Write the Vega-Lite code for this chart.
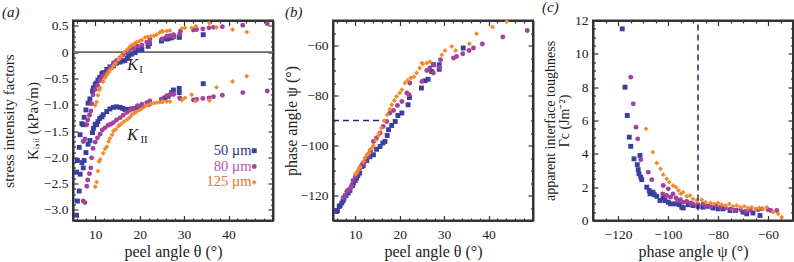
{
"$schema": "https://vega.github.io/schema/vega-lite/v6.json",
"background": "white",
"padding": {"left": 0, "top": -1.5, "right": 0, "bottom": 0},
"config": {
  "font": "Liberation Serif",
  "view": {"stroke": "#333333", "strokeWidth": 2},
  "axis": {"labelFont": "Liberation Serif", "labelFontSize": 13.5, "labelColor": "#222", "titleFont": "Liberation Serif", "titleFontSize": 16, "titleFontWeight": "normal", "titleColor": "#222", "grid": false, "domain": false, "domainColor": "#333333", "domainWidth": 2, "ticks": true, "tickColor": "#333333", "tickWidth": 1.2},
  "legend": {"labelFont": "Liberation Serif", "labelFontSize": 14.5, "padding": 0, "rowPadding": 0.8, "symbolSize": 24, "labelAlign": "right", "labelOffset": -10, "symbolOffset": 0},
  "title": {"font": "Liberation Serif", "fontStyle": "italic", "fontSize": 15, "fontWeight": "normal", "anchor": "start", "frame": "group", "color": "#222", "offset": 0}
},
"datasets": {
"m": [
{"s":"50 µm","t":5.8,"p":-126.4,"k1":-2.28,"k2":-3.10},
{"s":"50 µm","t":6.0,"p":-126,"k1":-2.06,"k2":-2.83},
{"s":"50 µm","t":6.4,"p":-124.4,"k1":-1.81,"k2":-2.64},
{"s":"50 µm","t":6.6,"p":-124,"k1":-1.57,"k2":-2.32},
{"s":"50 µm","t":7.0,"p":-123,"k1":-1.36,"k2":-2.10},
{"s":"50 µm","t":7.3,"p":-122,"k1":-1.38,"k2":-2.20},
{"s":"50 µm","t":7.5,"p":-121,"k1":-1.24,"k2":-2.06},
{"s":"50 µm","t":7.9,"p":-120,"k1":-1.10,"k2":-1.91},
{"s":"50 µm","t":8.4,"p":-119,"k1":-0.97,"k2":-1.75},
{"s":"50 µm","t":8.8,"p":-118,"k1":-0.89,"k2":-1.68},
{"s":"50 µm","t":9.4,"p":-116,"k1":-0.74,"k2":-1.53},
{"s":"50 µm","t":9.6,"p":-115,"k1":-0.68,"k2":-1.45},
{"s":"50 µm","t":10.0,"p":-114,"k1":-0.61,"k2":-1.37},
{"s":"50 µm","t":10.3,"p":-113,"k1":-0.59,"k2":-1.38},
{"s":"50 µm","t":10.6,"p":-112,"k1":-0.53,"k2":-1.32},
{"s":"50 µm","t":11.0,"p":-111,"k1":-0.48,"k2":-1.26},
{"s":"50 µm","t":11.5,"p":-108.4,"k1":-0.41,"k2":-1.23},
{"s":"50 µm","t":11.8,"p":-108,"k1":-0.39,"k2":-1.19},
{"s":"50 µm","t":12.6,"p":-106,"k1":-0.33,"k2":-1.13},
{"s":"50 µm","t":13.3,"p":-104.5,"k1":-0.28,"k2":-1.08},
{"s":"50 µm","t":14.1,"p":-103.7,"k1":-0.26,"k2":-1.05},
{"s":"50 µm","t":14.8,"p":-101.5,"k1":-0.21,"k2":-1.04},
{"s":"50 µm","t":15.6,"p":-100.4,"k1":-0.19,"k2":-1.05},
{"s":"50 µm","t":16.2,"p":-99,"k1":-0.17,"k2":-1.07},
{"s":"50 µm","t":16.7,"p":-98.4,"k1":-0.16,"k2":-1.09},
{"s":"50 µm","t":17.2,"p":-96,"k1":-0.12,"k2":-1.09},
{"s":"50 µm","t":17.5,"p":-93.7,"k1":-0.07,"k2":-1.10},
{"s":"50 µm","t":18.2,"p":-92,"k1":-0.04,"k2":-1.08},
{"s":"50 µm","t":19.0,"p":-90.4,"k1":-0.01,"k2":-1.07},
{"s":"50 µm","t":19.6,"p":-88,"k1":0.04,"k2":-1.05},
{"s":"50 µm","t":20.5,"p":-87,"k1":0.05,"k2":-1.03},
{"s":"50 µm","t":21.9,"p":-83.7,"k1":0.11,"k2":-0.99},
{"s":"50 µm","t":22.2,"p":-80.8,"k1":0.16,"k2":-0.97},
{"s":"50 µm","t":24.9,"p":-77,"k1":0.21,"k2":-0.91},
{"s":"50 µm","t":25.7,"p":-74.1,"k1":0.25,"k2":-0.87},
{"s":"50 µm","t":26.4,"p":-73.5,"k1":0.25,"k2":-0.84},
{"s":"50 µm","t":27.2,"p":-70.4,"k1":0.27,"k2":-0.77},
{"s":"50 µm","t":27.6,"p":-67.7,"k1":0.30,"k2":-0.72},
{"s":"50 µm","t":28.9,"p":-69.5,"k1":0.29,"k2":-0.77},
{"s":"50 µm","t":28.9,"p":-67.7,"k1":0.28,"k2":-0.69},
{"s":"50 µm","t":34.3,"p":-61,"k1":0.33,"k2":-0.60},
{"s":"80 µm","t":7.3,"p":-121,"k1":-1.70,"k2":-2.83},
{"s":"80 µm","t":7.7,"p":-120,"k1":-1.65,"k2":-2.86},
{"s":"80 µm","t":8.1,"p":-118.4,"k1":-1.38,"k2":-2.55},
{"s":"80 µm","t":8.3,"p":-118,"k1":-1.29,"k2":-2.43},
{"s":"80 µm","t":8.7,"p":-117.5,"k1":-1.20,"k2":-2.31},
{"s":"80 µm","t":9.0,"p":-117,"k1":-1.12,"k2":-2.20},
{"s":"80 µm","t":9.2,"p":-116,"k1":-0.98,"k2":-2.01},
{"s":"80 µm","t":9.5,"p":-114,"k1":-0.81,"k2":-1.83},
{"s":"80 µm","t":10.0,"p":-112.5,"k1":-0.71,"k2":-1.71},
{"s":"80 µm","t":10.5,"p":-111,"k1":-0.63,"k2":-1.63},
{"s":"80 µm","t":11.1,"p":-109,"k1":-0.54,"k2":-1.56},
{"s":"80 µm","t":11.6,"p":-107.5,"k1":-0.47,"k2":-1.48},
{"s":"80 µm","t":12.2,"p":-106.4,"k1":-0.42,"k2":-1.44},
{"s":"80 µm","t":12.9,"p":-104.4,"k1":-0.36,"k2":-1.39},
{"s":"80 µm","t":13.5,"p":-102,"k1":-0.29,"k2":-1.37},
{"s":"80 µm","t":14.1,"p":-98.4,"k1":-0.20,"k2":-1.34},
{"s":"80 µm","t":14.8,"p":-97,"k1":-0.16,"k2":-1.29},
{"s":"80 µm","t":15.6,"p":-95,"k1":-0.11,"k2":-1.25},
{"s":"80 µm","t":16.3,"p":-92.4,"k1":-0.05,"k2":-1.20},
{"s":"80 µm","t":17.1,"p":-90.4,"k1":-0.01,"k2":-1.15},
{"s":"80 µm","t":17.8,"p":-87,"k1":0.06,"k2":-1.10},
{"s":"80 µm","t":18.6,"p":-86,"k1":0.07,"k2":-1.07},
{"s":"80 µm","t":19.5,"p":-84,"k1":0.11,"k2":-1.02},
{"s":"80 µm","t":20.5,"p":-82.4,"k1":0.13,"k2":-0.99},
{"s":"80 µm","t":21.6,"p":-79,"k1":0.19,"k2":-0.96},
{"s":"80 µm","t":22.1,"p":-79.7,"k1":0.17,"k2":-0.95},
{"s":"80 µm","t":22.3,"p":-75,"k1":0.25,"k2":-0.93},
{"s":"80 µm","t":25.0,"p":-74.4,"k1":0.25,"k2":-0.89},
{"s":"80 µm","t":26.1,"p":-70,"k1":0.30,"k2":-0.83},
{"s":"80 µm","t":26.8,"p":-69,"k1":0.31,"k2":-0.81},
{"s":"80 µm","t":27.6,"p":-67.7,"k1":0.33,"k2":-0.80},
{"s":"80 µm","t":27.6,"p":-71,"k1":0.28,"k2":-0.80},
{"s":"80 µm","t":29.0,"p":-68.8,"k1":0.34,"k2":-0.87},
{"s":"80 µm","t":29.2,"p":-65.7,"k1":0.40,"k2":-0.89},
{"s":"80 µm","t":32.1,"p":-65,"k1":0.42,"k2":-0.91},
{"s":"80 µm","t":32.8,"p":-64.4,"k1":0.43,"k2":-0.90},
{"s":"80 µm","t":34.2,"p":-63.3,"k1":0.44,"k2":-0.88},
{"s":"80 µm","t":35.6,"p":-62,"k1":0.46,"k2":-0.87},
{"s":"80 µm","t":36.6,"p":-61,"k1":0.47,"k2":-0.85},
{"s":"80 µm","t":38.6,"p":-59.4,"k1":0.48,"k2":-0.82},
{"s":"80 µm","t":43.2,"p":-56.6,"k1":0.51,"k2":-0.77},
{"s":"80 µm","t":48.7,"p":-54,"k1":0.54,"k2":-0.74},
{"s":"125 µm","t":10.0,"p":-111.5,"k1":-1.01,"k2":-2.56},
{"s":"125 µm","t":10.3,"p":-111,"k1":-0.95,"k2":-2.47},
{"s":"125 µm","t":10.6,"p":-110,"k1":-0.82,"k2":-2.26},
{"s":"125 µm","t":10.9,"p":-109,"k1":-0.72,"k2":-2.08},
{"s":"125 µm","t":11.1,"p":-108.5,"k1":-0.68,"k2":-2.04},
{"s":"125 µm","t":11.8,"p":-106.4,"k1":-0.56,"k2":-1.92},
{"s":"125 µm","t":12.2,"p":-105,"k1":-0.49,"k2":-1.84},
{"s":"125 µm","t":12.6,"p":-103.7,"k1":-0.44,"k2":-1.80},
{"s":"125 µm","t":13.0,"p":-103,"k1":-0.39,"k2":-1.70},
{"s":"125 µm","t":13.3,"p":-101.7,"k1":-0.34,"k2":-1.64},
{"s":"125 µm","t":13.8,"p":-101,"k1":-0.31,"k2":-1.57},
{"s":"125 µm","t":14.1,"p":-100,"k1":-0.26,"k2":-1.50},
{"s":"125 µm","t":14.6,"p":-98,"k1":-0.21,"k2":-1.47},
{"s":"125 µm","t":15.2,"p":-96,"k1":-0.15,"k2":-1.41},
{"s":"125 µm","t":15.4,"p":-95,"k1":-0.12,"k2":-1.39},
{"s":"125 µm","t":15.9,"p":-93,"k1":-0.07,"k2":-1.36},
{"s":"125 µm","t":16.5,"p":-90.1,"k1":0.00,"k2":-1.32},
{"s":"125 µm","t":17.2,"p":-87.7,"k1":0.05,"k2":-1.28},
{"s":"125 µm","t":17.8,"p":-85.5,"k1":0.10,"k2":-1.24},
{"s":"125 µm","t":18.2,"p":-83.7,"k1":0.13,"k2":-1.19},
{"s":"125 µm","t":18.8,"p":-82,"k1":0.16,"k2":-1.16},
{"s":"125 µm","t":19.3,"p":-80.4,"k1":0.19,"k2":-1.13},
{"s":"125 µm","t":20.0,"p":-79,"k1":0.21,"k2":-1.10},
{"s":"125 µm","t":20.5,"p":-77.7,"k1":0.23,"k2":-1.07},
{"s":"125 µm","t":21.2,"p":-75,"k1":0.28,"k2":-1.03},
{"s":"125 µm","t":21.8,"p":-74,"k1":0.29,"k2":-1.01},
{"s":"125 µm","t":22.5,"p":-73,"k1":0.30,"k2":-0.98},
{"s":"125 µm","t":23.2,"p":-72.5,"k1":0.31,"k2":-0.97},
{"s":"125 µm","t":23.8,"p":-71,"k1":0.33,"k2":-0.96},
{"s":"125 µm","t":24.5,"p":-69,"k1":0.37,"k2":-0.95},
{"s":"125 µm","t":25.0,"p":-67,"k1":0.40,"k2":-0.95},
{"s":"125 µm","t":25.2,"p":-67.4,"k1":0.39,"k2":-0.94},
{"s":"125 µm","t":26.1,"p":-67,"k1":0.40,"k2":-0.94},
{"s":"125 µm","t":26.8,"p":-66.5,"k1":0.41,"k2":-0.94},
{"s":"125 µm","t":29.5,"p":-63.7,"k1":0.45,"k2":-0.91},
{"s":"125 µm","t":30.2,"p":-62,"k1":0.46,"k2":-0.87},
{"s":"125 µm","t":31.7,"p":-60.4,"k1":0.46,"k2":-0.81},
{"s":"125 µm","t":32.6,"p":-62,"k1":0.49,"k2":-0.93},
{"s":"125 µm","t":35.7,"p":-59.3,"k1":0.55,"k2":-0.92},
{"s":"125 µm","t":37.3,"p":-55.3,"k1":0.47,"k2":-0.67},
{"s":"125 µm","t":40.9,"p":-52.6,"k1":0.43,"k2":-0.56},
{"s":"125 µm","t":44.1,"p":-50.4,"k1":0.38,"k2":-0.46}
],
"c": [
{"s":"50 µm","p":-118.3,"g":11.5},{"s":"50 µm","p":-117.2,"g":8.0},{"s":"50 µm","p":-116.3,"g":6.3},{"s":"50 µm","p":-115.5,"g":5.0},{"s":"50 µm","p":-114.9,"g":4.45},{"s":"50 µm","p":-113.6,"g":3.7},{"s":"50 µm","p":-111.2,"g":3.9},{"s":"50 µm","p":-112.3,"g":3.35},{"s":"50 µm","p":-111.9,"g":3.05},{"s":"50 µm","p":-111.6,"g":2.8},{"s":"50 µm","p":-110.9,"g":2.6},{"s":"50 µm","p":-110.5,"g":2.45},{"s":"50 µm","p":-108.5,"g":2.0},{"s":"50 µm","p":-107.5,"g":1.8},{"s":"50 µm","p":-107.2,"g":1.6},{"s":"50 µm","p":-106,"g":1.7},{"s":"50 µm","p":-105.5,"g":1.55},{"s":"50 µm","p":-104.5,"g":1.45},{"s":"50 µm","p":-103.2,"g":1.2},{"s":"50 µm","p":-102,"g":1.35},{"s":"50 µm","p":-101.2,"g":1.2},{"s":"50 µm","p":-99.9,"g":1.1},{"s":"50 µm","p":-99,"g":1.0},{"s":"50 µm","p":-97.2,"g":1.0},{"s":"50 µm","p":-95.5,"g":0.95},{"s":"50 µm","p":-94.5,"g":0.8},{"s":"50 µm","p":-93.9,"g":0.75},{"s":"50 µm","p":-92,"g":0.95},{"s":"50 µm","p":-90,"g":0.9},{"s":"50 µm","p":-88,"g":0.85},{"s":"50 µm","p":-86,"g":0.8},{"s":"50 µm","p":-84,"g":0.85},{"s":"50 µm","p":-82,"g":0.75},{"s":"50 µm","p":-80,"g":0.7},{"s":"50 µm","p":-78,"g":0.7},{"s":"50 µm","p":-75.2,"g":0.6},{"s":"50 µm","p":-73,"g":0.6},{"s":"50 µm","p":-70,"g":0.5},{"s":"50 µm","p":-68.5,"g":0.4},{"s":"50 µm","p":-66,"g":0.45},{"s":"50 µm","p":-63.2,"g":0.3},
{"s":"80 µm","p":-114.9,"g":8.6},{"s":"80 µm","p":-113.9,"g":7.0},{"s":"80 µm","p":-112.8,"g":5.6},{"s":"80 µm","p":-112.1,"g":4.9},{"s":"80 µm","p":-110.9,"g":3.65},{"s":"80 µm","p":-107.9,"g":2.9},{"s":"80 µm","p":-106.5,"g":2.45},{"s":"80 µm","p":-101.9,"g":2.1},{"s":"80 µm","p":-102.1,"g":1.6},{"s":"80 µm","p":-99.9,"g":1.9},{"s":"80 µm","p":-100.5,"g":1.5},{"s":"80 µm","p":-99,"g":1.4},{"s":"80 µm","p":-98,"g":1.6},{"s":"80 µm","p":-96.8,"g":1.35},{"s":"80 µm","p":-96,"g":1.2},{"s":"80 µm","p":-95,"g":1.25},{"s":"80 µm","p":-94,"g":1.1},{"s":"80 µm","p":-92.5,"g":1.15},{"s":"80 µm","p":-91,"g":1.05},{"s":"80 µm","p":-90,"g":1.0},{"s":"80 µm","p":-88,"g":0.95},{"s":"80 µm","p":-86,"g":1.0},{"s":"80 µm","p":-85,"g":0.9},{"s":"80 µm","p":-83,"g":0.85},{"s":"80 µm","p":-81,"g":0.9},{"s":"80 µm","p":-79,"g":0.8},{"s":"80 µm","p":-77,"g":0.75},{"s":"80 µm","p":-75,"g":0.7},{"s":"80 µm","p":-73,"g":0.6},{"s":"80 µm","p":-71,"g":0.65},{"s":"80 µm","p":-69,"g":0.55},{"s":"80 µm","p":-67,"g":0.6},{"s":"80 µm","p":-64,"g":0.65},{"s":"80 µm","p":-62.5,"g":0.7},{"s":"80 µm","p":-60,"g":0.65},{"s":"80 µm","p":-58.9,"g":0.6},{"s":"80 µm","p":-56.5,"g":0.6},
{"s":"125 µm","p":-108.8,"g":5.5},{"s":"125 µm","p":-106.1,"g":4.1},{"s":"125 µm","p":-104.5,"g":3.45},{"s":"125 µm","p":-103,"g":3.1},{"s":"125 µm","p":-101.9,"g":2.75},{"s":"125 µm","p":-100.5,"g":2.5},{"s":"125 µm","p":-99.5,"g":2.3},{"s":"125 µm","p":-98,"g":2.1},{"s":"125 µm","p":-96.8,"g":2.0},{"s":"125 µm","p":-95.8,"g":1.8},{"s":"125 µm","p":-94.9,"g":1.6},{"s":"125 µm","p":-93.9,"g":1.7},{"s":"125 µm","p":-92.5,"g":1.45},{"s":"125 µm","p":-91.2,"g":1.5},{"s":"125 µm","p":-90,"g":1.3},{"s":"125 µm","p":-88.5,"g":1.2},{"s":"125 µm","p":-86.5,"g":1.25},{"s":"125 µm","p":-85,"g":1.1},{"s":"125 µm","p":-83,"g":1.05},{"s":"125 µm","p":-81.5,"g":1.0},{"s":"125 µm","p":-80,"g":1.05},{"s":"125 µm","p":-78.5,"g":0.95},{"s":"125 µm","p":-77,"g":0.9},{"s":"125 µm","p":-75.5,"g":1.0},{"s":"125 µm","p":-74,"g":0.85},{"s":"125 µm","p":-72.5,"g":0.9},{"s":"125 µm","p":-71,"g":0.8},{"s":"125 µm","p":-69.5,"g":0.85},{"s":"125 µm","p":-68,"g":0.75},{"s":"125 µm","p":-66.5,"g":0.8},{"s":"125 µm","p":-65,"g":0.7},{"s":"125 µm","p":-63.5,"g":0.75},{"s":"125 µm","p":-62,"g":0.7},{"s":"125 µm","p":-60.5,"g":0.8},{"s":"125 µm","p":-58,"g":0.5},{"s":"125 µm","p":-55.9,"g":0.4},{"s":"125 µm","p":-54.5,"g":0.2}
]
},
"resolve": {"scale": {"color": "independent", "shape": "independent"}},
"spacing": 60,
"bounds": "flush",
"hconcat": [
{
  "width": 200, "height": 200,
  "title": {"text": "(a)", "dx": -71, "dy": 5},
  "resolve": {"axis": {"x": "independent", "y": "independent"}},
  "layer": [
    {"data": {"values": [{"z": 0}]}, "mark": {"type": "rule", "color": "#6a6a6a", "strokeWidth": 1.8},
     "encoding": {"y": {"field": "z", "type": "quantitative", "scale": {"domain": [-3.2, 0.6], "nice": false, "zero": false}, "axis": null}}},
    {"data": {"name": "m"}, "mark": {"type": "point", "filled": true, "opacity": 1, "size": 24},
     "encoding": {
       "x": {"field": "t", "type": "quantitative", "scale": {"domain": [5, 50], "nice": false, "zero": false},
             "axis": {"orient": "bottom", "values": [10, 20, 30, 40], "title": "peel angle θ (°)", "domain": true, "tickSize": -5, "labelPadding": 12, "titlePadding": 2.5}},
       "y": {"field": "k1", "type": "quantitative", "scale": {"domain": [-3.2, 0.6], "nice": false, "zero": false},
             "axis": {"orient": "left", "values": [-3, -2.5, -2, -1.5, -1, -0.5, 0, 0.5], "labelExpr": "datum.value == 0 ? '0' : format(datum.value, '.1f')", "title": ["stress intensity factors", "Kᵢ,ᵢᵢ (kPa√m)"], "titleFontSize": 15, "titleLineHeight": 24, "domain": true, "tickSize": -5, "labelPadding": 10, "titlePadding": 3}},
       "color": {"field": "s", "type": "nominal", "scale": {"domain": ["50 µm", "80 µm", "125 µm"], "range": ["#3b3f9e", "#a3419c", "#f08a2b"]},
                 "legend": {"orient": "none", "legendX": 174, "legendY": 123, "title": null, "labelColor": {"expr": "datum.label == '50 µm' ? '#2e2f7f' : datum.label == '80 µm' ? '#b25bb0' : '#e8742c'"}}},
       "shape": {"field": "s", "type": "nominal", "scale": {"domain": ["50 µm", "80 µm", "125 µm"], "range": ["square", "circle", "diamond"]},
                 "legend": {"orient": "none", "legendX": 174, "legendY": 123, "title": null, "labelColor": {"expr": "datum.label == '50 µm' ? '#2e2f7f' : datum.label == '80 µm' ? '#b25bb0' : '#e8742c'"}}}
     }},
    {"data": {"name": "m"}, "mark": {"type": "point", "filled": true, "opacity": 1, "size": 24},
     "encoding": {
       "x": {"field": "t", "type": "quantitative", "scale": {"domain": [5, 50], "nice": false, "zero": false},
             "axis": {"orient": "bottom", "values": [6, 8, 12, 14, 16, 18, 22, 24, 26, 28, 32, 34, 36, 38, 42, 44, 46, 48], "labels": false, "title": null, "tickSize": -2.5}},
       "y": {"field": "k2", "type": "quantitative", "scale": {"domain": [-3.2, 0.6], "nice": false, "zero": false},
             "axis": {"orient": "left", "values": [-3.1, -2.9, -2.8, -2.7, -2.6, -2.4, -2.3, -2.2, -2.1, -1.9, -1.8, -1.7, -1.6, -1.4, -1.3, -1.2, -1.1, -0.9, -0.8, -0.7, -0.6, -0.4, -0.3, -0.2, -0.1, 0.1, 0.2, 0.3, 0.4], "labels": false, "title": null, "tickSize": -2.5}},
       "color": {"field": "s", "type": "nominal", "scale": {"domain": ["50 µm", "80 µm", "125 µm"], "range": ["#3b3f9e", "#a3419c", "#f08a2b"]},
                 "legend": {"orient": "none", "legendX": 174, "legendY": 123, "title": null, "labelColor": {"expr": "datum.label == '50 µm' ? '#2e2f7f' : datum.label == '80 µm' ? '#b25bb0' : '#e8742c'"}}},
       "shape": {"field": "s", "type": "nominal", "scale": {"domain": ["50 µm", "80 µm", "125 µm"], "range": ["square", "circle", "diamond"]},
                 "legend": {"orient": "none", "legendX": 174, "legendY": 123, "title": null, "labelColor": {"expr": "datum.label == '50 µm' ? '#2e2f7f' : datum.label == '80 µm' ? '#b25bb0' : '#e8742c'"}}}
     }},
    {"data": {"values": [{"t": 18.4, "k": -0.24, "lab": "K"}, {"t": 18.4, "k": -1.57, "lab": "K"}]},
     "mark": {"type": "text", "font": "Liberation Serif", "fontStyle": "italic", "fontSize": 16, "color": "#222"},
     "encoding": {
       "x": {"field": "t", "type": "quantitative", "scale": {"domain": [5, 50], "nice": false, "zero": false},
             "axis": {"orient": "top", "values": [10, 20, 30, 40], "labels": false, "title": null, "domain": true, "tickSize": -5}},
       "y": {"field": "k", "type": "quantitative", "scale": {"domain": [-3.2, 0.6], "nice": false, "zero": false},
             "axis": {"orient": "right", "values": [-3, -2.5, -2, -1.5, -1, -0.5, 0, 0.5], "labels": false, "title": null, "domain": true, "tickSize": -5}},
       "text": {"field": "lab"}}},
    {"data": {"values": [{"t": 20.3, "k": -0.34, "lab": "I"}, {"t": 21.0, "k": -1.67, "lab": "II"}]},
     "mark": {"type": "text", "font": "Liberation Serif", "fontSize": 11, "color": "#222"},
     "encoding": {
       "x": {"field": "t", "type": "quantitative", "scale": {"domain": [5, 50], "nice": false, "zero": false},
             "axis": {"orient": "top", "values": [6, 8, 12, 14, 16, 18, 22, 24, 26, 28, 32, 34, 36, 38, 42, 44, 46, 48], "labels": false, "title": null, "tickSize": -2.5}},
       "y": {"field": "k", "type": "quantitative", "scale": {"domain": [-3.2, 0.6], "nice": false, "zero": false},
             "axis": {"orient": "right", "values": [-3.1, -2.9, -2.8, -2.7, -2.6, -2.4, -2.3, -2.2, -2.1, -1.9, -1.8, -1.7, -1.6, -1.4, -1.3, -1.2, -1.1, -0.9, -0.8, -0.7, -0.6, -0.4, -0.3, -0.2, -0.1, 0.1, 0.2, 0.3, 0.4], "labels": false, "title": null, "tickSize": -2.5}},
       "text": {"field": "lab"}}}
  ]
},
{
  "width": 200, "height": 200,
  "title": {"text": "(b)", "dx": -48, "dy": 5},
  "resolve": {"axis": {"x": "independent", "y": "independent"}},
  "layer": [
    {"data": {"name": "m"}, "transform": [{"filter": "datum.s == '50 µm'"}], "mark": {"type": "point", "filled": true, "opacity": 1, "size": 24},
     "encoding": {
       "x": {"field": "t", "type": "quantitative", "scale": {"domain": [5, 50], "nice": false, "zero": false},
             "axis": {"orient": "bottom", "values": [10, 20, 30, 40], "title": "peel angle θ (°)", "domain": true, "tickSize": -5, "labelPadding": 12, "titlePadding": 2.5}},
       "y": {"field": "p", "type": "quantitative", "scale": {"domain": [-130, -50], "nice": false, "zero": false},
             "axis": {"orient": "left", "values": [-120, -100, -80, -60], "title": "phase angle ψ (°)", "domain": true, "tickSize": -5, "labelPadding": 10, "titlePadding": 1}},
       "color": {"field": "s", "type": "nominal", "scale": {"domain": ["50 µm", "80 µm", "125 µm"], "range": ["#3b3f9e", "#a3419c", "#f08a2b"]}, "legend": null},
       "shape": {"field": "s", "type": "nominal", "scale": {"domain": ["50 µm", "80 µm", "125 µm"], "range": ["square", "circle", "diamond"]}, "legend": null}
     }},
    {"data": {"name": "m"}, "transform": [{"filter": "datum.s == '80 µm'"}], "mark": {"type": "point", "filled": true, "opacity": 1, "size": 24},
     "encoding": {
       "x": {"field": "t", "type": "quantitative", "scale": {"domain": [5, 50], "nice": false, "zero": false},
             "axis": {"orient": "bottom", "values": [6, 8, 12, 14, 16, 18, 22, 24, 26, 28, 32, 34, 36, 38, 42, 44, 46, 48], "labels": false, "title": null, "tickSize": -2.5}},
       "y": {"field": "p", "type": "quantitative", "scale": {"domain": [-130, -50], "nice": false, "zero": false},
             "axis": {"orient": "left", "values": [-125, -115, -110, -105, -95, -90, -85, -75, -70, -65, -55], "labels": false, "title": null, "tickSize": -2.5}},
       "color": {"field": "s", "type": "nominal", "scale": {"domain": ["50 µm", "80 µm", "125 µm"], "range": ["#3b3f9e", "#a3419c", "#f08a2b"]}, "legend": null},
       "shape": {"field": "s", "type": "nominal", "scale": {"domain": ["50 µm", "80 µm", "125 µm"], "range": ["square", "circle", "diamond"]}, "legend": null}
     }},
    {"data": {"name": "m"}, "transform": [{"filter": "datum.s == '125 µm'"}], "mark": {"type": "point", "filled": true, "opacity": 1, "size": 24},
     "encoding": {
       "x": {"field": "t", "type": "quantitative", "scale": {"domain": [5, 50], "nice": false, "zero": false},
             "axis": {"orient": "top", "values": [10, 20, 30, 40], "labels": false, "title": null, "domain": true, "tickSize": -5}},
       "y": {"field": "p", "type": "quantitative", "scale": {"domain": [-130, -50], "nice": false, "zero": false},
             "axis": {"orient": "right", "values": [-120, -100, -80, -60], "labels": false, "title": null, "domain": true, "tickSize": -5}},
       "color": {"field": "s", "type": "nominal", "scale": {"domain": ["50 µm", "80 µm", "125 µm"], "range": ["#3b3f9e", "#a3419c", "#f08a2b"]}, "legend": null},
       "shape": {"field": "s", "type": "nominal", "scale": {"domain": ["50 µm", "80 µm", "125 µm"], "range": ["square", "circle", "diamond"]}, "legend": null}
     }},
    {"data": {"values": [{"t0": 5, "t1": 15.6, "p": -90}]},
     "mark": {"type": "rule", "color": "#2a2a6a", "strokeWidth": 1.5, "strokeDash": [6, 4]},
     "encoding": {
       "x": {"field": "t0", "type": "quantitative", "scale": {"domain": [5, 50], "nice": false, "zero": false},
             "axis": {"orient": "top", "values": [6, 8, 12, 14, 16, 18, 22, 24, 26, 28, 32, 34, 36, 38, 42, 44, 46, 48], "labels": false, "title": null, "tickSize": -2.5}},
       "x2": {"field": "t1"},
       "y": {"field": "p", "type": "quantitative", "scale": {"domain": [-130, -50], "nice": false, "zero": false},
             "axis": {"orient": "right", "values": [-125, -115, -110, -105, -95, -90, -85, -75, -70, -65, -55], "labels": false, "title": null, "tickSize": -2.5}}
     }}
  ]
},
{
  "width": 200, "height": 200,
  "title": {"text": "(c)", "dx": -51, "dy": 5},
  "resolve": {"axis": {"x": "independent", "y": "independent"}},
  "layer": [
    {"data": {"name": "c"}, "transform": [{"filter": "datum.s == '50 µm'"}], "mark": {"type": "point", "filled": true, "opacity": 1, "size": 24},
     "encoding": {
       "x": {"field": "p", "type": "quantitative", "scale": {"domain": [-130, -50], "nice": false, "zero": false},
             "axis": {"orient": "bottom", "values": [-120, -100, -80, -60], "title": "phase angle ψ (°)", "domain": true, "tickSize": -5, "labelPadding": 12, "titlePadding": 2.5}},
       "y": {"field": "g", "type": "quantitative", "scale": {"domain": [0, 12], "nice": false},
             "axis": {"orient": "left", "values": [0, 2, 4, 6, 8, 10, 12], "title": ["apparent interface toughness", "Γc (Jm⁻²)"], "titleFontSize": 14, "titleLineHeight": 14, "domain": true, "tickSize": -5, "labelPadding": 10, "titlePadding": 3}},
       "color": {"field": "s", "type": "nominal", "scale": {"domain": ["50 µm", "80 µm", "125 µm"], "range": ["#3b3f9e", "#a3419c", "#f08a2b"]}, "legend": null},
       "shape": {"field": "s", "type": "nominal", "scale": {"domain": ["50 µm", "80 µm", "125 µm"], "range": ["square", "circle", "diamond"]}, "legend": null}
     }},
    {"data": {"name": "c"}, "transform": [{"filter": "datum.s == '80 µm'"}], "mark": {"type": "point", "filled": true, "opacity": 1, "size": 24},
     "encoding": {
       "x": {"field": "p", "type": "quantitative", "scale": {"domain": [-130, -50], "nice": false, "zero": false},
             "axis": {"orient": "bottom", "values": [-125, -115, -110, -105, -95, -90, -85, -75, -70, -65, -55], "labels": false, "title": null, "tickSize": -2.5}},
       "y": {"field": "g", "type": "quantitative", "scale": {"domain": [0, 12], "nice": false},
             "axis": {"orient": "left", "values": [0.5, 1, 1.5, 2.5, 3, 3.5, 4.5, 5, 5.5, 6.5, 7, 7.5, 8.5, 9, 9.5, 10.5, 11, 11.5], "labels": false, "title": null, "tickSize": -2.5}},
       "color": {"field": "s", "type": "nominal", "scale": {"domain": ["50 µm", "80 µm", "125 µm"], "range": ["#3b3f9e", "#a3419c", "#f08a2b"]}, "legend": null},
       "shape": {"field": "s", "type": "nominal", "scale": {"domain": ["50 µm", "80 µm", "125 µm"], "range": ["square", "circle", "diamond"]}, "legend": null}
     }},
    {"data": {"name": "c"}, "transform": [{"filter": "datum.s == '125 µm'"}], "mark": {"type": "point", "filled": true, "opacity": 1, "size": 24},
     "encoding": {
       "x": {"field": "p", "type": "quantitative", "scale": {"domain": [-130, -50], "nice": false, "zero": false},
             "axis": {"orient": "top", "values": [-120, -100, -80, -60], "labels": false, "title": null, "domain": true, "tickSize": -5}},
       "y": {"field": "g", "type": "quantitative", "scale": {"domain": [0, 12], "nice": false},
             "axis": {"orient": "right", "values": [0, 2, 4, 6, 8, 10, 12], "labels": false, "title": null, "domain": true, "tickSize": -5}},
       "color": {"field": "s", "type": "nominal", "scale": {"domain": ["50 µm", "80 µm", "125 µm"], "range": ["#3b3f9e", "#a3419c", "#f08a2b"]}, "legend": null},
       "shape": {"field": "s", "type": "nominal", "scale": {"domain": ["50 µm", "80 µm", "125 µm"], "range": ["square", "circle", "diamond"]}, "legend": null}
     }},
    {"data": {"values": [{"p": -88, "g0": 0, "g1": 12}]},
     "mark": {"type": "rule", "color": "#2a2a6a", "strokeWidth": 1.5, "strokeDash": [6, 4]},
     "encoding": {
       "x": {"field": "p", "type": "quantitative", "scale": {"domain": [-130, -50], "nice": false, "zero": false},
             "axis": {"orient": "top", "values": [-125, -115, -110, -105, -95, -90, -85, -75, -70, -65, -55], "labels": false, "title": null, "tickSize": -2.5}},
       "y": {"field": "g0", "type": "quantitative", "scale": {"domain": [0, 12], "nice": false},
             "axis": {"orient": "right", "values": [0.5, 1, 1.5, 2.5, 3, 3.5, 4.5, 5, 5.5, 6.5, 7, 7.5, 8.5, 9, 9.5, 10.5, 11, 11.5], "labels": false, "title": null, "tickSize": -2.5}},
       "y2": {"field": "g1"}
     }}
  ]
}
]
}
